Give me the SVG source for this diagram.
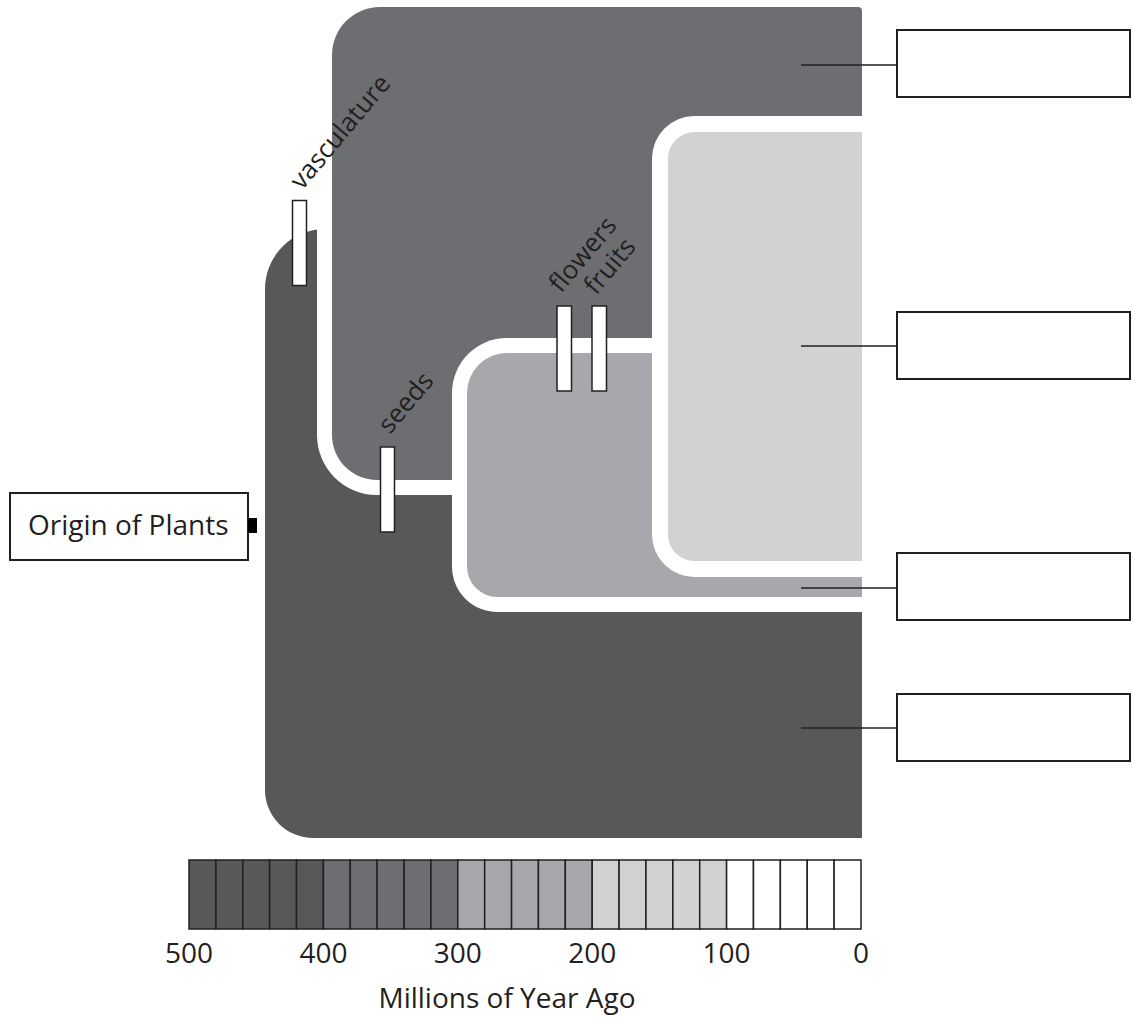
<svg xmlns="http://www.w3.org/2000/svg" width="1133" height="1017" viewBox="0 0 1133 1017">
<style>
  text { font-family: "Open Sans", "Noto Sans", "Liberation Sans", sans-serif; fill: #231f20; }
  .lbl { font-size: 28px; }
  .rot { font-size: 26px; }
  .bar { fill: #ffffff; stroke: #231f20; stroke-width: 1.5; }
  .box { fill: #ffffff; stroke: #231f20; stroke-width: 2; }
  .lead { stroke: #231f20; stroke-width: 1.5; fill: none; }
  .cell { stroke: #231f20; stroke-width: 1.5; }
  .c1 { fill: #58585a; } .c2 { fill: #6d6e71; } .c3 { fill: #a7a8ab; } .c4 { fill: #d1d2d4; } .c5 { fill: #ffffff; }
</style>
<rect x="0" y="0" width="1133" height="1017" fill="#ffffff"/>

<g id="tree">
  <path class="c1" d="M265,790 V289 A60,60 0 0 1 317,229.5 H862 V838 H313 A48,48 0 0 1 265,790 Z"/>
  <path fill="#ffffff" d="M317,7 H862 V495 H377 A60,60 0 0 1 317,435 Z"/>
  <path class="c2" d="M332,55 A48,48 0 0 1 380,7 H858 A4,4 0 0 1 862,11 V480 H377 A45,45 0 0 1 332,435 Z"/>
  <path fill="#ffffff" d="M452,393 A55,55 0 0 1 507,338 H862 V612 H497.5 A45.5,45.5 0 0 1 452,566.5 Z"/>
  <path class="c3" d="M467,393 A40,40 0 0 1 507,353 H862 V597 H497.5 A30.5,30.5 0 0 1 467,566.5 Z"/>
  <path fill="#ffffff" d="M652,158.5 A42.5,42.5 0 0 1 694.5,116 H862 V577 H694.5 A42.5,42.5 0 0 1 652,534.5 Z"/>
  <path class="c4" d="M668,158.5 A26.5,26.5 0 0 1 694.5,132 H862 V561 H694.5 A26.5,26.5 0 0 1 668,534.5 Z"/>
</g>

<g id="trait-vasculature">
  <rect class="bar" x="292.5" y="200.5" width="14" height="85"/>
  <text class="rot" transform="translate(302,191) rotate(-50)">vasculature</text>
</g>
<g id="trait-seeds">
  <rect class="bar" x="380.5" y="447" width="14" height="85"/>
  <text class="rot" transform="translate(390,435) rotate(-50)">seeds</text>
</g>
<g id="trait-flowers">
  <rect class="bar" x="557" y="306" width="14.5" height="85"/>
  <text class="rot" transform="translate(561,294) rotate(-50)">flowers</text>
</g>
<g id="trait-fruits">
  <rect class="bar" x="592" y="306" width="14.5" height="85"/>
  <text class="rot" transform="translate(596,296) rotate(-50)">fruits</text>
</g>

<g id="origin">
  <rect class="box" x="10" y="493" width="238" height="67"/>
  <rect x="248" y="518" width="9" height="15" fill="#000000"/>
  <text class="lbl" x="28" y="535">Origin of Plants</text>
</g>

<g id="connectors">
  <line class="lead" x1="801" y1="65" x2="897" y2="65"/>
  <line class="lead" x1="801" y1="346" x2="897" y2="346"/>
  <line class="lead" x1="801" y1="588" x2="897" y2="588"/>
  <line class="lead" x1="801" y1="728" x2="897" y2="728"/>
</g>

<g id="box1"><rect class="box" x="897" y="30" width="233" height="67"/></g>
<g id="box2"><rect class="box" x="897" y="312" width="233" height="67"/></g>
<g id="box3"><rect class="box" x="897" y="553" width="233" height="67"/></g>
<g id="box4"><rect class="box" x="897" y="694" width="233" height="67"/></g>

<g id="scale">
  <rect class="cell c1" x="189" y="860" width="26.88" height="69"/>
  <rect class="cell c1" x="215.88" y="860" width="26.88" height="69"/>
  <rect class="cell c1" x="242.76" y="860" width="26.88" height="69"/>
  <rect class="cell c1" x="269.64" y="860" width="26.88" height="69"/>
  <rect class="cell c1" x="296.52" y="860" width="26.88" height="69"/>
  <rect class="cell c2" x="323.4" y="860" width="26.88" height="69"/>
  <rect class="cell c2" x="350.28" y="860" width="26.88" height="69"/>
  <rect class="cell c2" x="377.16" y="860" width="26.88" height="69"/>
  <rect class="cell c2" x="404.04" y="860" width="26.88" height="69"/>
  <rect class="cell c2" x="430.92" y="860" width="26.88" height="69"/>
  <rect class="cell c3" x="457.8" y="860" width="26.88" height="69"/>
  <rect class="cell c3" x="484.68" y="860" width="26.88" height="69"/>
  <rect class="cell c3" x="511.56" y="860" width="26.88" height="69"/>
  <rect class="cell c3" x="538.44" y="860" width="26.88" height="69"/>
  <rect class="cell c3" x="565.32" y="860" width="26.88" height="69"/>
  <rect class="cell c4" x="592.2" y="860" width="26.88" height="69"/>
  <rect class="cell c4" x="619.08" y="860" width="26.88" height="69"/>
  <rect class="cell c4" x="645.96" y="860" width="26.88" height="69"/>
  <rect class="cell c4" x="672.84" y="860" width="26.88" height="69"/>
  <rect class="cell c4" x="699.72" y="860" width="26.88" height="69"/>
  <rect class="cell c5" x="726.6" y="860" width="26.88" height="69"/>
  <rect class="cell c5" x="753.48" y="860" width="26.88" height="69"/>
  <rect class="cell c5" x="780.36" y="860" width="26.88" height="69"/>
  <rect class="cell c5" x="807.24" y="860" width="26.88" height="69"/>
  <rect class="cell c5" x="834.12" y="860" width="26.88" height="69"/>
  <g class="lbl" text-anchor="middle">
    <text x="189" y="963">500</text>
    <text x="323.4" y="963">400</text>
    <text x="457.8" y="963">300</text>
    <text x="592.2" y="963">200</text>
    <text x="726.6" y="963">100</text>
    <text x="861" y="963">0</text>
    <text x="507" y="1008">Millions of Year Ago</text>
  </g>
</g>
</svg>
